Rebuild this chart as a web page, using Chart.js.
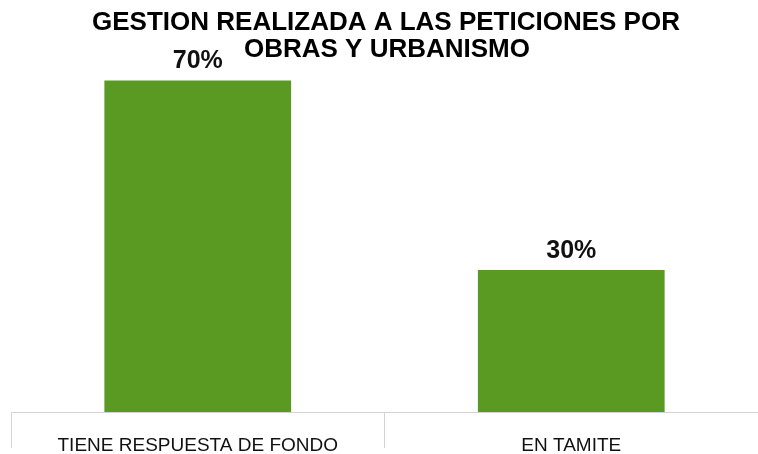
<!DOCTYPE html>
<html><head><meta charset="utf-8">
<script src="https://cdn.jsdelivr.net/npm/chart.js@4/dist/chart.umd.min.js"></script>
<style>html,body{margin:0;padding:0;background:#fff}#wrap{width:758px;height:454px}</style>
</head><body><div id="wrap"><canvas id="c" width="758" height="454"></canvas></div>
<script>
const titleLines = ["GESTION REALIZADA A LAS PETICIONES POR", "OBRAS Y URBANISMO"];
const categories = ["TIENE RESPUESTA DE FONDO", "EN TAMITE"];
const values = [70, 30];
const valueLabels = ["70%", "30%"];

const titlePlugin = {
  id: 'customTitle',
  afterDraw(chart) {
    const ctx = chart.ctx;
    ctx.save();
    ctx.fillStyle = '#000';
    ctx.font = 'bold 26px "Liberation Sans", Arial, sans-serif';
    ctx.textAlign = 'center';
    ctx.textBaseline = 'alphabetic';
    ctx.fillText(titleLines[0], 386, 30);
    ctx.fillText(titleLines[1], 387, 57);
    ctx.restore();
  }
};
const labelPlugin = {
  id: 'valueLabels',
  afterDatasetsDraw(chart) {
    const ctx = chart.ctx;
    const meta = chart.getDatasetMeta(0);
    ctx.save();
    ctx.fillStyle = '#111';
    ctx.font = 'bold 25px "Liberation Sans", Arial, sans-serif';
    ctx.textAlign = 'center';
    ctx.textBaseline = 'alphabetic';
    meta.data.forEach((bar, i) => {
      ctx.fillText(valueLabels[i], bar.x, bar.y - 12);
    });
    ctx.restore();
  }
};

new Chart(document.getElementById('c'), {
  type: 'bar',
  data: {
    labels: categories,
    datasets: [{
      data: values,
      backgroundColor: '#5a9a22',
      borderWidth: 0,
      categoryPercentage: 1.0,
      barPercentage: 0.5
    }]
  },
  options: {
    responsive: false,
    animation: false,
    layout: { padding: { top: 35, left: 11, right: -6, bottom: 0 } },
    plugins: { legend: { display: false }, title: { display: false }, tooltip: { enabled: false } },
    scales: {
      y: { display: false, min: 0, max: 79.6 },
      x: {
        offset: true,
        grid: { offset: true, drawOnChartArea: false, drawTicks: true, tickLength: 36, color: '#d4d4d4', lineWidth: 1 },
        border: { display: true, color: '#d4d4d4', width: 1 },
        ticks: { color: '#111', font: { family: '"Liberation Sans", Arial, sans-serif', size: 19 }, padding: -14 },
        afterFit(s) { s.height = 42; }
      }
    }
  },
  plugins: [titlePlugin, labelPlugin]
});
</script></body></html>
